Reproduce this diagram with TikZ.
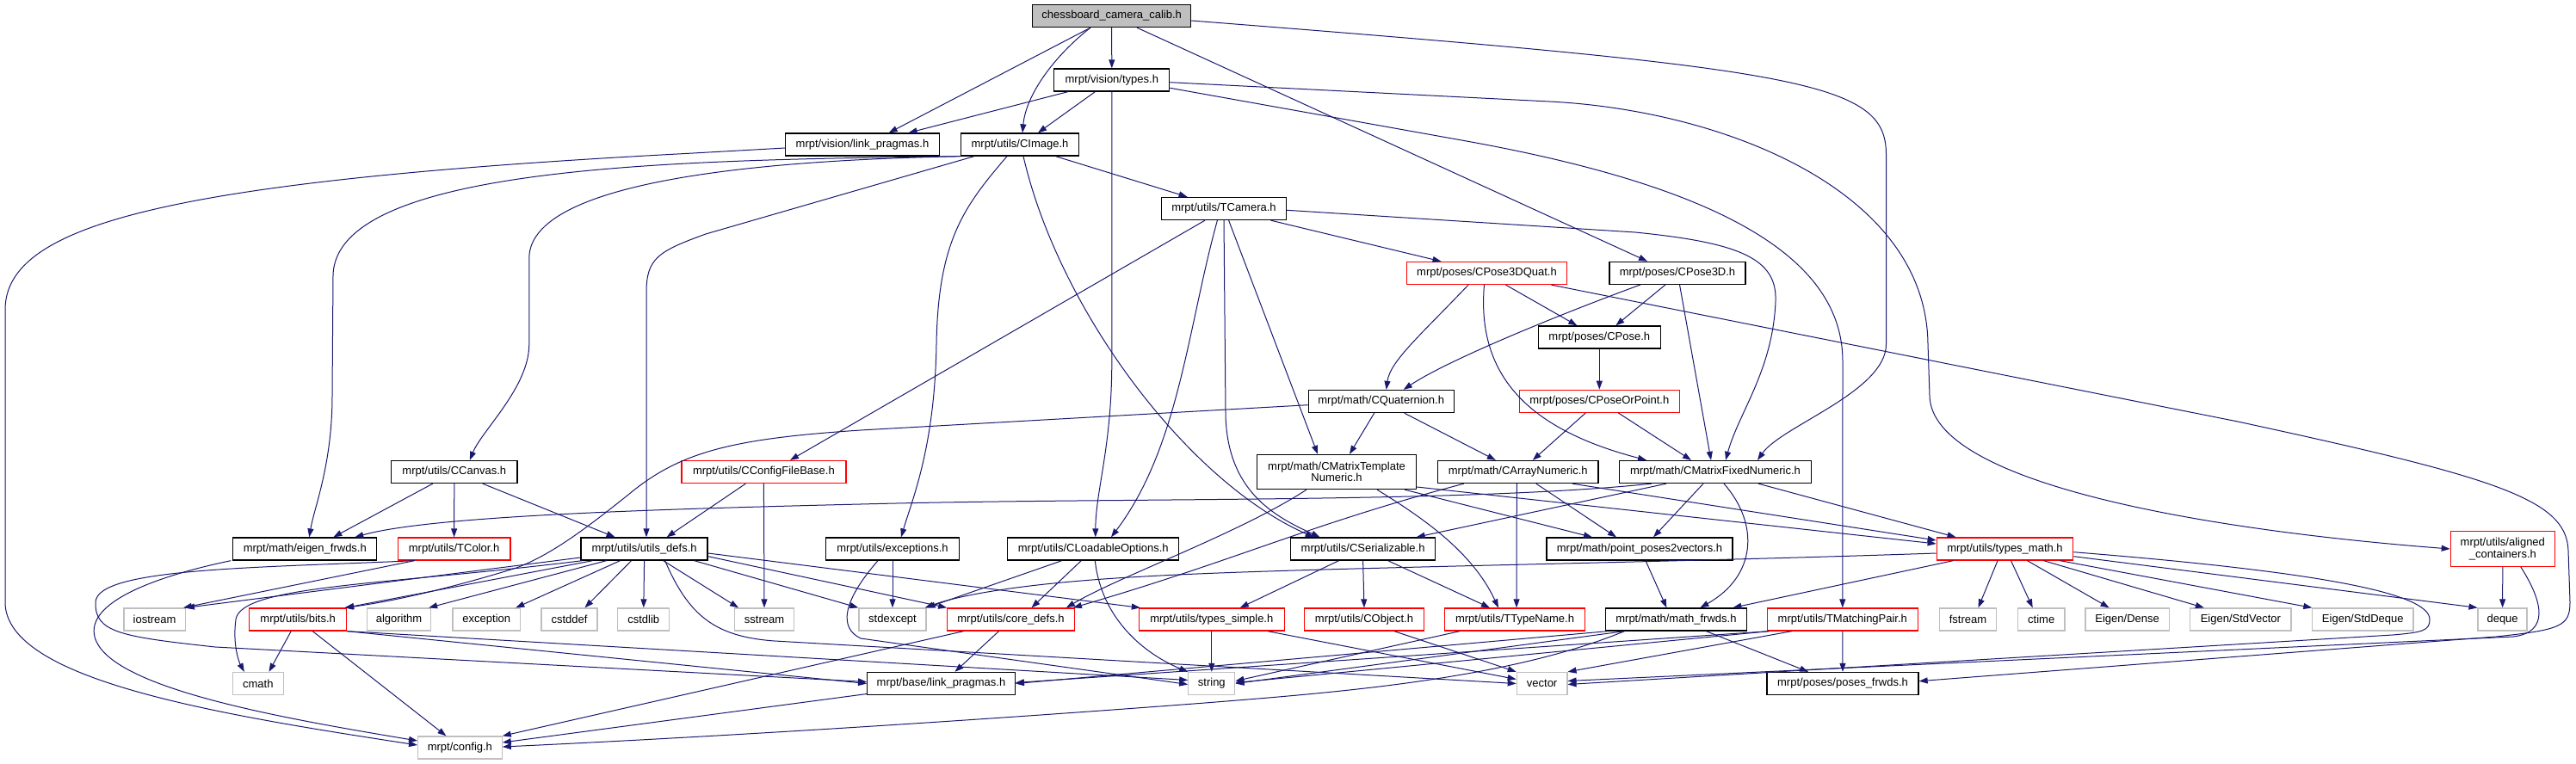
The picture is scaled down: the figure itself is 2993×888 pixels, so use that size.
\documentclass[tikz,border=0pt]{standalone}
\usepackage{fontspec}
\setmainfont{Liberation Sans}
\usetikzlibrary{arrows.meta}
\definecolor{edgec}{HTML}{191970}
\definecolor{sysgray}{HTML}{BFBFBF}
\definecolor{maingray}{HTML}{BFBFBF}
\tikzset{
  box/.style={draw=black, line width=1.3pt, fill=white, inner sep=0pt, minimum height=26pt, align=center, font=\fontsize{13}{13.5}\selectfont},
  redbox/.style={box, draw=red},
  sysbox/.style={box, draw=sysgray},
  mainbox/.style={box, fill=maingray},
  dep/.style={draw=edgec, line width=1pt, -{Triangle[length=10pt,width=7pt]}},
}
\begin{document}
\begin{tikzpicture}[x=1pt,y=-1pt]
\fill[white] (0,0) rectangle (2993,888);
\useasboundingbox (0,0) rectangle (2993,888);
% ---------- nodes ----------
\node[mainbox, minimum width=184pt] (main) at (1291.6,18.5) {chessboard\_camera\_calib.h};
\node[box, minimum width=134pt] (vtypes) at (1291.8,93) {mrpt/vision/types.h};
\node[box, minimum width=178.5pt] (vlink) at (1002,168) {mrpt/vision/link\_pragmas.h};
\node[box, minimum width=137pt] (cimage) at (1185,168) {mrpt/utils/CImage.h};
\node[box, minimum width=145pt] (tcamera) at (1422,242.5) {mrpt/utils/TCamera.h};
\node[redbox, minimum width=186.5pt] (cpose3dquat) at (1727.5,317.5) {mrpt/poses/CPose3DQuat.h};
\node[box, minimum width=158pt] (cpose3d) at (1949,317.3) {mrpt/poses/CPose3D.h};
\node[box, minimum width=142pt] (cpose) at (1858.3,392) {mrpt/poses/CPose.h};
\node[redbox, minimum width=186pt] (cposeorpoint) at (1858.3,466.3) {mrpt/poses/CPoseOrPoint.h};
\node[box, minimum width=169pt] (cquat) at (1604.7,466.5) {mrpt/math/CQuaternion.h};
\node[box, minimum width=185pt, minimum height=40pt] (cmtn) at (1553,548.5) {mrpt/math/CMatrixTemplate\\Numeric.h};
\node[box, minimum width=186.5pt] (carray) at (1763.8,548.5) {mrpt/math/CArrayNumeric.h};
\node[box, minimum width=222.7pt] (cmfn) at (1993,548.5) {mrpt/math/CMatrixFixedNumeric.h};
\node[box, minimum width=146.4pt] (ccanvas) at (527.8,548.5) {mrpt/utils/CCanvas.h};
\node[redbox, minimum width=191pt] (cconfig) at (887.4,548.5) {mrpt/utils/CConfigFileBase.h};
\node[box, minimum width=167pt] (eigenfrwds) at (354.3,638) {mrpt/math/eigen\_frwds.h};
\node[redbox, minimum width=130.6pt] (tcolor) at (527.6,638) {mrpt/utils/TColor.h};
\node[box, minimum width=147pt] (utilsdefs) at (748.6,638) {mrpt/utils/utils\_defs.h};
\node[box, minimum width=155pt] (exceptions) at (1037,638) {mrpt/utils/exceptions.h};
\node[box, minimum width=199pt] (cloadable) at (1270.3,638) {mrpt/utils/CLoadableOptions.h};
\node[box, minimum width=168pt] (cserial) at (1583.6,638) {mrpt/utils/CSerializable.h};
\node[box, minimum width=216pt] (pp2v) at (1905,638) {mrpt/math/point\_poses2vectors.h};
\node[redbox, minimum width=158.5pt] (typesmath) at (2329.5,638) {mrpt/utils/types\_math.h};
\node[redbox, minimum width=121pt, minimum height=40.6pt, font=\fontsize{13}{14.3}\selectfont] (aligned) at (2907.8,638) {mrpt/utils/aligned\\\_containers.h};
\node[sysbox, minimum width=71.4pt] (iostream) at (179.6,720) {iostream};
\node[redbox, minimum width=112.8pt] (bits) at (346.2,720) {mrpt/utils/bits.h};
\node[sysbox, minimum width=74pt] (algorithm) at (463.5,720) {algorithm};
\node[sysbox, minimum width=78.6pt] (exception) at (565.3,720) {exception};
\node[sysbox, minimum width=64.8pt] (cstddef) at (661.5,720) {cstddef};
\node[sysbox, minimum width=60pt] (cstdlib) at (747.8,720) {cstdlib};
\node[sysbox, minimum width=69.4pt] (sstream) at (888,720) {sstream};
\node[sysbox, minimum width=78pt] (stdexcept) at (1037,720) {stdexcept};
\node[redbox, minimum width=147.5pt] (coredefs) at (1174.5,720) {mrpt/utils/core\_defs.h};
\node[redbox, minimum width=168.7pt] (typessimple) at (1407.8,720) {mrpt/utils/types\_simple.h};
\node[redbox, minimum width=139pt] (cobject) at (1585,720) {mrpt/utils/CObject.h};
\node[redbox, minimum width=163pt] (ttypename) at (1760,720) {mrpt/utils/TTypeName.h};
\node[box, minimum width=163.6pt] (mathfrwds) at (1947.4,720) {mrpt/math/math\_frwds.h};
\node[redbox, minimum width=175pt] (tmatching) at (2140.8,720) {mrpt/utils/TMatchingPair.h};
\node[sysbox, minimum width=66.6pt] (fstream) at (2286.5,720) {fstream};
\node[sysbox, minimum width=54.7pt] (ctime) at (2371.7,720) {ctime};
\node[sysbox, minimum width=97.4pt] (eigendense) at (2471.6,720) {Eigen/Dense};
\node[sysbox, minimum width=117.3pt] (eigenstdvec) at (2603.4,720) {Eigen/StdVector};
\node[sysbox, minimum width=117.3pt] (eigenstddeque) at (2745.3,720) {Eigen/StdDeque};
\node[sysbox, minimum width=57pt] (deque) at (2907.6,720) {deque};
\node[sysbox, minimum width=58.7pt] (cmath) at (299.8,794.5) {cmath};
\node[box, minimum width=171.6pt] (baselink) at (1093.5,794.5) {mrpt/base/link\_pragmas.h};
\node[sysbox, minimum width=54pt] (string) at (1407.8,794.5) {string};
\node[sysbox, minimum width=58.6pt] (vector) at (1791.6,794.5) {vector};
\node[box, minimum width=176pt] (posesfrwds) at (2141,794.5) {mrpt/poses/poses\_frwds.h};
\node[sysbox, minimum width=97.5pt] (config) at (534.4,869) {mrpt/config.h};
% ---------- edges ----------
% main
\draw[dep] (main.south) -- (vtypes.north);
\draw[dep] ([xshift=-24.6pt]main.south) -- ([xshift=30.7pt]vlink.north);
\draw[dep] ([xshift=-24.6pt]main.south) .. controls (1225,65) and (1192,110) .. ([xshift=3pt]cimage.north);
\draw[dep] ([xshift=29.4pt]main.south) -- ([xshift=-35pt]cpose3d.north);
\draw[dep] ([yshift=-5.5pt]main.east) .. controls (2100,80) and (2191.5,95) .. (2191.5,180) -- (2191.5,400) .. controls (2191.5,455) and (2070,495) .. ([xshift=49pt]cmfn.north);
% vision/types
\draw[dep] ([xshift=-51pt]vtypes.south) -- ([xshift=53.6pt]vlink.north);
\draw[dep] ([xshift=-19.4pt]vtypes.south) -- ([xshift=21pt]cimage.north);
\draw[dep] (vtypes.south) -- (1291.8,420) .. controls (1291.8,520) and (1273,570) .. ([xshift=2.5pt]cloadable.north);
\draw[dep] ([yshift=-9.3pt]vtypes.east) -- (1700,163.3) .. controls (2000,217) and (2141,300) .. (2141,420) -- (tmatching.north);
\draw[dep] ([yshift=-2.7pt]vtypes.east) -- (1800,118) .. controls (2000,128) and (2238,220) .. (2240,400) -- (2242,460) .. controls (2244,560) and (2550,615) .. (aligned.west);
% CImage
\draw[dep] ([xshift=41.5pt]cimage.south) -- ([xshift=-42.4pt]tcamera.north);
\draw[dep] (cimage.south west) .. controls (950,185) and (615,200) .. (614.8,300) -- (614.8,400) .. controls (614.8,450) and (560,500) .. ([xshift=18pt]ccanvas.north);
\draw[dep] (cimage.south west) .. controls (800,186) and (390,190) .. (387,320) -- (386,460) .. controls (386,540) and (365,590) .. ([xshift=5pt]eigenfrwds.north);
\draw[dep] ([xshift=-53pt]cimage.south) -- (820,272) .. controls (765,292) and (751,300) .. (751,340) -- ([xshift=2.4pt]utilsdefs.north);
\draw[dep] ([xshift=-15pt]cimage.south) .. controls (1120,240) and (1090,280) .. (1088,400) .. controls (1086,520) and (1060,580) .. ([xshift=10pt]exceptions.north);
\draw[dep] ([xshift=4pt]cimage.south) .. controls (1230,360) and (1380,560) .. ([xshift=-57pt]cserial.north);
% TCamera
\draw[dep] ([xshift=54.4pt]tcamera.south) -- ([xshift=-53pt]cpose3dquat.north);
\draw[dep] ([xshift=-22pt]tcamera.south) -- ([xshift=30.6pt]cconfig.north);
\draw[dep] ([xshift=-7.6pt]tcamera.south) .. controls (1380,380) and (1370,520) .. ([xshift=20.7pt]cloadable.north);
\draw[dep] (tcamera.south) -- (1424,480) .. controls (1425,570) and (1480,600) .. ([xshift=-50pt]cserial.north);
\draw[dep] ([xshift=5.6pt]tcamera.south) -- ([xshift=-22pt]cmtn.north);
\draw[dep] ([yshift=-1.8pt]tcamera.east) -- (1900,270) .. controls (2020,282) and (2065,300) .. (2063,350) .. controls (2060,430) and (2020,480) .. ([xshift=12pt]cmfn.north);
% CPose3DQuat
\draw[dep] ([xshift=22pt]cpose3dquat.south) -- ([xshift=-26pt]cpose.north);
\draw[dep] ([xshift=-21.5pt]cpose3dquat.south) .. controls (1650,390) and (1615,420) .. ([xshift=6pt]cquat.north);
\draw[dep] ([xshift=-3pt]cpose3dquat.south) .. controls (1715,440) and (1780,500) .. ([xshift=-80pt]cmfn.north);
\draw[dep] ([xshift=75pt]cpose3dquat.south) -- (2600,490) .. controls (2900,555) and (2982,580) .. (2984,640) -- (2986,700) .. controls (2986,728) and (2975,732) .. (2900,740) -- ([yshift=2.8pt]posesfrwds.east);
% CPose3D
\draw[dep] ([xshift=-14pt]cpose3d.south) -- ([xshift=19pt]cpose.north);
\draw[dep] ([xshift=-43pt]cpose3d.south) .. controls (1800,370) and (1680,420) .. ([xshift=26pt]cquat.north);
\draw[dep] ([xshift=2.5pt]cpose3d.south) -- ([xshift=-5pt]cmfn.north);
% CPose, CPoseOrPoint
\draw[dep] (cpose.south) -- (cposeorpoint.north);
\draw[dep] ([xshift=-16pt]cposeorpoint.south) -- ([xshift=17pt]carray.north);
\draw[dep] ([xshift=22pt]cposeorpoint.south) -- ([xshift=-28pt]cmfn.north);
% CQuaternion
\draw[dep] ([xshift=-8pt]cquat.south) -- ([xshift=15pt]cmtn.north);
\draw[dep] ([xshift=27pt]cquat.south) -- ([xshift=-26pt]carray.north);
\draw[dep] ([yshift=-4.2pt]cquat.west) -- (1000,500) .. controls (850,510) and (790,525) .. (730,575) .. controls (680,615) and (640,645) .. (600,660) .. controls (520,685) and (450,700) .. ([xshift=-3pt]bits.north east);
% CMatrixTemplateNumeric
\draw[dep] ([xshift=-35pt]cmtn.south) .. controls (1440,620) and (1300,670) .. ([xshift=-10pt]coredefs.north east);
\draw[dep] ([xshift=47pt]cmtn.south) .. controls (1650,600) and (1710,640) .. ([xshift=-19pt]ttypename.north);
\draw[dep] ([xshift=79pt]cmtn.south) -- ([xshift=-55pt]pp2v.north);
\draw[dep] ([yshift=-17.5pt]cmtn.east) -- ([yshift=6pt]typesmath.west);
% CArrayNumeric
\draw[dep] ([xshift=-63pt]carray.south) .. controls (1520,610) and (1440,650) .. ([xshift=-2pt]coredefs.north east);
\draw[dep] ([xshift=-1.5pt]carray.south) -- ([xshift=2pt]ttypename.north);
\draw[dep] ([xshift=21pt]carray.south) -- ([xshift=-27pt]pp2v.north);
\draw[dep] ([xshift=63pt]carray.south) -- ([yshift=10pt]typesmath.west);
% CMatrixFixedNumeric
\draw[dep] ([xshift=-74pt]cmfn.south) .. controls (1700,585) and (1300,578) .. (1000,586) .. controls (750,592) and (500,600) .. ([xshift=58pt]eigenfrwds.north);
\draw[dep] ([xshift=-57pt]cmfn.south) -- ([xshift=62pt]cserial.north);
\draw[dep] ([xshift=-14pt]cmfn.south) -- ([xshift=16pt]pp2v.north);
\draw[dep] ([xshift=10pt]cmfn.south) .. controls (2045,610) and (2040,670) .. ([xshift=28pt]mathfrwds.north);
\draw[dep] ([xshift=50pt]cmfn.south) -- ([xshift=-57pt]typesmath.north);
% point_poses2vectors
\draw[dep] ([xshift=7pt]pp2v.south) -- ([xshift=-11pt]mathfrwds.north);
% CSerializable
\draw[dep] ([xshift=-28pt]cserial.south) -- ([xshift=33pt]typessimple.north);
\draw[dep] (cserial.south) -- (cobject.north);
\draw[dep] ([xshift=29pt]cserial.south) -- ([xshift=-29pt]ttypename.north);
% types_math
\draw[dep] ([yshift=-5pt]typesmath.west) .. controls (1900,655) and (1500,660) .. (1330,670) .. controls (1200,677) and (1120,690) .. ([xshift=-2pt]stdexcept.north east);
\draw[dep] ([xshift=-60pt]typesmath.south) -- ([xshift=66pt]mathfrwds.north);
\draw[dep] ([xshift=-8.5pt]typesmath.south) -- ([xshift=12pt]fstream.north);
\draw[dep] ([xshift=7pt]typesmath.south) -- ([xshift=-10pt]ctime.north);
\draw[dep] ([xshift=26pt]typesmath.south) -- ([xshift=-21pt]eigendense.north);
\draw[dep] ([xshift=45pt]typesmath.south) -- ([xshift=-42.6pt]eigenstdvec.north);
\draw[dep] ([xshift=64pt]typesmath.south) -- ([xshift=-59pt]eigenstddeque.north);
\draw[dep] ([yshift=-8.7pt]typesmath.east) -- (deque.north west);
\draw[dep] ([yshift=-3.7pt]typesmath.east) .. controls (2700,665) and (2823,690) .. (2823,720) .. controls (2823,733) and (2815,735) .. (2780,738) -- ([yshift=-1pt]vector.east);
% aligned_containers
\draw[dep] (aligned.south) -- (deque.north);
\draw[dep] ([xshift=21pt]aligned.south) .. controls (2955,700) and (2962,735) .. (2920,740) -- ([yshift=3pt]vector.east);
% TMatchingPair
\draw[dep] (tmatching.south) -- (posesfrwds.north);
\draw[dep] ([xshift=-59pt]tmatching.south) -- (vector.north east);
\draw[dep] ([xshift=3pt]tmatching.south west) -- ([yshift=1pt]string.east);
\draw[dep] ([xshift=3pt]tmatching.south west) -- ([yshift=1pt]baselink.east);
% math_frwds
\draw[dep] ([xshift=3pt]mathfrwds.south west) -- (baselink.east);
\draw[dep] ([xshift=-60pt]mathfrwds.south) -- (string.east);
\draw[dep] ([xshift=-60pt]mathfrwds.south) .. controls (1750,790) and (1550,805) .. (1400,817) .. controls (1100,840) and (800,858) .. ([yshift=1pt]config.east);
\draw[dep] ([xshift=35pt]mathfrwds.south) -- ([xshift=-40pt]posesfrwds.north);
% TTypeName, CObject, types_simple
\draw[dep] ([xshift=-64pt]ttypename.south) -- ([yshift=3pt]string.east);
\draw[dep] ([xshift=35pt]cobject.south) -- (vector.north west);
\draw[dep] (typessimple.south) -- (string.north);
\draw[dep] ([xshift=65pt]typessimple.south) -- ([yshift=5pt]vector.west);
% utils_defs
\draw[dep] ([xshift=24pt]utilsdefs.south) .. controls (800,715) and (830,740) .. (900,745) -- (vector.west);
\draw[dep] ([yshift=-10pt]utilsdefs.west) -- (iostream.north east);
\draw[dep] ([xshift=-72pt]utilsdefs.south) .. controls (450,680) and (280,680) .. (274,720) .. controls (270,750) and (278,770) .. ([xshift=-16pt]cmath.north);
\draw[dep] ([xshift=-60pt]utilsdefs.south) -- ([xshift=-2pt]bits.north east);
\draw[dep] ([xshift=-44pt]utilsdefs.south) -- ([xshift=-3pt]algorithm.north east);
\draw[dep] ([xshift=-28pt]utilsdefs.south) -- ([xshift=34pt]exception.north);
\draw[dep] ([xshift=-15pt]utilsdefs.south) -- ([xshift=18pt]cstddef.north);
\draw[dep] (utilsdefs.south) -- (cstdlib.north);
\draw[dep] ([xshift=22pt]utilsdefs.south) -- ([xshift=-30pt]sstream.north);
\draw[dep] ([xshift=58pt]utilsdefs.south) -- (stdexcept.north west);
\draw[dep] ([yshift=-8.7pt]utilsdefs.east) -- (coredefs.north west);
\draw[dep] ([yshift=-5pt]utilsdefs.east) -- ([xshift=2pt]typessimple.north west);
% CConfigFileBase, CCanvas
\draw[dep] ([xshift=-21pt]cconfig.south) -- ([xshift=26pt]utilsdefs.north);
\draw[dep] (cconfig.south) -- (sstream.north);
\draw[dep] ([xshift=-25pt]ccanvas.south) -- ([xshift=33pt]eigenfrwds.north);
\draw[dep] (ccanvas.south) -- (tcolor.north);
\draw[dep] ([xshift=33pt]ccanvas.south) -- ([xshift=-34pt]utilsdefs.north);
% eigen_frwds, vision/link_pragmas -> config
\draw[dep] ([xshift=-86pt]eigenfrwds.south) .. controls (180,670) and (100,700) .. (110,740) .. controls (125,800) and (330,835) .. ([yshift=8pt]config.west);
\draw[dep] ([yshift=-4pt]vlink.west) -- (800,178.3) .. controls (200,210) and (6,260) .. (6,360) -- (6,700) .. controls (6,790) and (250,830) .. ([yshift=3pt]config.west);
% TColor
\draw[dep] ([xshift=-46pt]tcolor.south) -- ([xshift=-3pt]iostream.north east);
\draw[dep] ([xshift=-46pt]tcolor.south) .. controls (300,660) and (112,660) .. (111,700) .. controls (110,735) and (140,740) .. (250,752) -- ([yshift=2pt]baselink.west);
% bits
\draw[dep] ([xshift=-8pt]bits.south) -- ([xshift=12.7pt]cmath.north);
\draw[dep] ([xshift=17pt]bits.south) -- ([xshift=-16pt]config.north);
\draw[dep] (bits.south east) -- ([yshift=4pt]string.west);
\draw[dep] (bits.south east) -- (baselink.west);
% exceptions
\draw[dep] (exceptions.south) -- (stdexcept.north);
\draw[dep] ([xshift=-17pt]exceptions.south) .. controls (978,700) and (975,730) .. (1000,742) -- ([yshift=-1pt]string.west);
% CLoadableOptions
\draw[dep] ([xshift=-36.5pt]cloadable.south) -- (stdexcept.north east);
\draw[dep] ([xshift=-14pt]cloadable.south) -- ([xshift=24pt]coredefs.north);
\draw[dep] ([xshift=2pt]cloadable.south) .. controls (1280,720) and (1330,760) .. (string.north west);
% core_defs, base/link_pragmas
\draw[dep] ([xshift=-55pt]coredefs.south) -- (config.north east);
\draw[dep] ([xshift=-14pt]coredefs.south) -- ([xshift=16pt]baselink.north);
\draw[dep] ([yshift=-12pt]baselink.west) -- ([yshift=6pt]config.east);
\end{tikzpicture}
\end{document}
